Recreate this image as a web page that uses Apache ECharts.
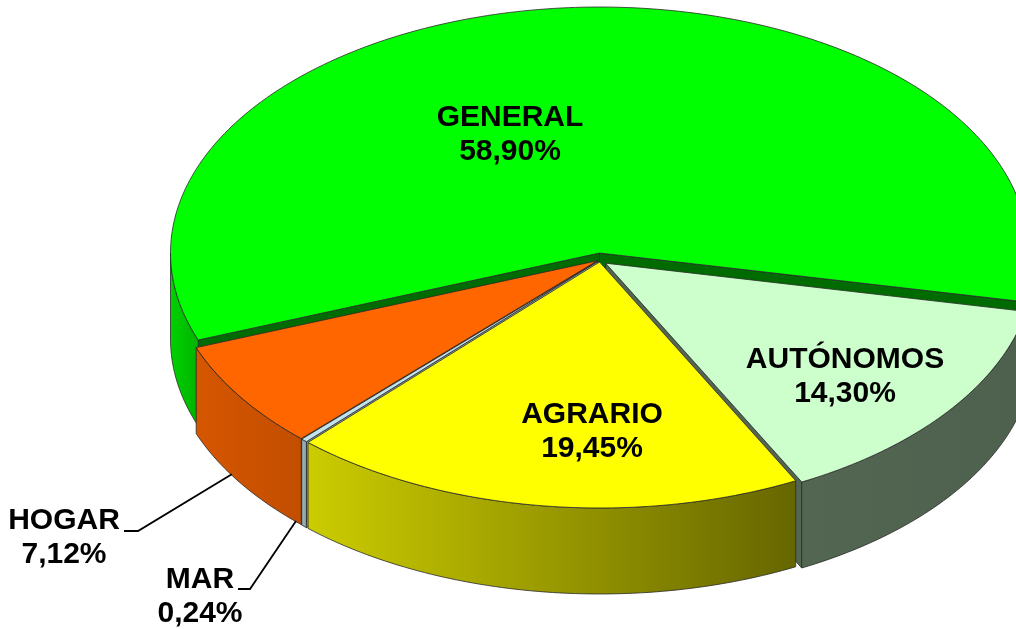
<!DOCTYPE html>
<html>
<head>
<meta charset="utf-8">
<script src="https://cdn.jsdelivr.net/npm/echarts@6/dist/echarts.min.js"></script>
<style>
html,body{margin:0;padding:0;background:#fff;}
#main{width:1016px;height:629px;}
</style>
</head>
<body>
<div id="main"></div>
<script>
// datos
var categories = ['GENERAL', 'AUTÓNOMOS', 'AGRARIO', 'MAR', 'HOGAR'];
var values = [58.90, 14.30, 19.45, 0.24, 7.12];
var topColors = ['#00ff00', '#ccffcc', '#ffff00', '#c4e4ec', '#ff6600'];
// sombreado de la pared lateral (izquierda, derecha) y pared radial
var sideShade = [[0.82, 0.7], [0.4, 0.38], [0.8, 0.4], [0.8, 0.7], [0.84, 0.76]];
var wallShade = [0.42, 0.4, 0.45, 0.7, 0.6];

// geometria del pastel 3D (elipse en pantalla)
var cx = 600, cy = 259, rx = 429, ry = 246, depth = 86;
var startAngle = 159.3; // grados, sentido horario en pantalla
var explode = [6, 7, 3, 3, 3];
var labelPos = [[510, 135], [845, 377], [592, 432], [200, 597], [64, 538]];
var elbows = [null, null, null, [[238, 589], [250, 589]], [[124, 531], [138, 531]]];

function shade(hex, f) {
    var n = parseInt(hex.slice(1), 16);
    var r = Math.round(((n >> 16) & 255) * f), g = Math.round(((n >> 8) & 255) * f), b = Math.round((n & 255) * f);
    return 'rgb(' + r + ',' + g + ',' + b + ')';
}
function fmt(v) { return v.toFixed(2).replace('.', ',') + '%'; }

var total = values.reduce(function (a, b) { return a + b; }, 0);
var slices = [];
var acc = startAngle;
for (var i = 0; i < values.length; i++) {
    var span = values[i] / total * 360;
    var mid = (acc + span / 2) * Math.PI / 180;
    slices.push({a0: acc, a1: acc + span, ex: explode[i] * Math.cos(mid), ey: explode[i] * Math.sin(mid), mid: acc + span / 2});
    acc += span;
}

function pt(a, s, down) {
    var r = a * Math.PI / 180;
    return [cx + s.ex + rx * Math.cos(r), cy + s.ey + ry * Math.sin(r) + (down || 0)];
}
function arc(a0, a1, s, down) {
    var n = Math.max(2, Math.ceil(Math.abs(a1 - a0)));
    var pts = [];
    for (var k = 0; k <= n; k++) pts.push(pt(a0 + (a1 - a0) * k / n, s, down));
    return pts;
}

var lineCol = '#2a2a2a';

function renderItem(params, api) {
    var i = params.dataIndex;
    var s = slices[i];
    var col = topColors[i];
    var apex = [cx + s.ex, cy + s.ey];
    var apexB = [apex[0], apex[1] + depth];
    var kids = [];
    var sideFill = {
        type: 'linear', x: 0, y: 0, x2: 1, y2: 0,
        colorStops: [{offset: 0, color: shade(col, sideShade[i][0])}, {offset: 1, color: shade(col, sideShade[i][1])}]
    };
    // paredes radiales visibles
    [[s.a0, Math.cos(s.a0 * Math.PI / 180) < 0], [s.a1, Math.cos(s.a1 * Math.PI / 180) > 0]].forEach(function (w) {
        if (!w[1]) return;
        var e = pt(w[0], s), eb = pt(w[0], s, depth);
        kids.push({
            type: 'polygon', z2: 2 + Math.sin(w[0] * Math.PI / 180),
            shape: {points: [apex, e, eb, apexB]},
            style: {fill: shade(col, wallShade[i]), stroke: lineCol, lineWidth: 0.8}
        });
    });
    // pared exterior (solo parte frontal)
    for (var k = -1; k <= 2; k++) {
        var lo = Math.max(s.a0, 360 * k), hi = Math.min(s.a1, 360 * k + 180);
        if (hi > lo) {
            var pts = arc(lo, hi, s).concat(arc(lo, hi, s, depth).reverse());
            kids.push({
                type: 'polygon', z2: 5,
                shape: {points: pts},
                style: {fill: sideFill, stroke: lineCol, lineWidth: 0.8}
            });
        }
    }
    // cara superior
    kids.push({
        type: 'polygon', z2: 10,
        shape: {points: [apex].concat(arc(s.a0, s.a1, s))},
        style: {fill: col, stroke: lineCol, lineWidth: 0.8}
    });
    // etiqueta
    kids.push({
        type: 'text', z2: 30, x: labelPos[i][0], y: labelPos[i][1],
        style: {
            text: categories[i] + '\n' + fmt(api.value(1)),
            fontSize: 30, fontWeight: 'bold', fontFamily: '"Liberation Sans", Arial, sans-serif',
            fill: '#000', align: 'center', verticalAlign: 'middle', lineHeight: 34
        }
    });
    // linea guia para etiquetas externas
    if (elbows[i]) {
        var end = pt(s.mid + (i === 4 ? 2 : 1.5), s, depth - 1);
        kids.push({
            type: 'polyline', z2: 30,
            shape: {points: elbows[i].concat([end])},
            style: {stroke: '#000', lineWidth: 1.8, fill: null}
        });
    }
    return {type: 'group', children: kids};
}

var chart = echarts.init(document.getElementById('main'));
chart.setOption({
    backgroundColor: '#ffffff',
    animation: false,
    series: [{
        type: 'custom',
        coordinateSystem: 'none',
        renderItem: renderItem,
        data: values.map(function (v, i) { return [i, v]; })
    }]
});
</script>
</body>
</html>
